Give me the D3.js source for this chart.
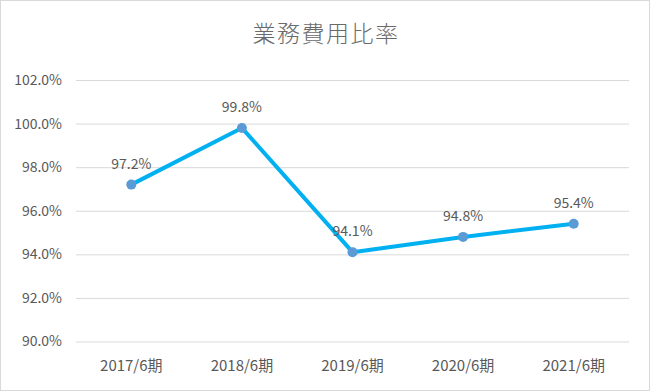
<!DOCTYPE html>
<html><head><meta charset="utf-8">
<script src="https://cdn.jsdelivr.net/npm/d3@7"></script>
<style>html,body{margin:0;padding:0;background:#fff;}svg{display:block;}</style>
</head><body>
<svg id="c" width="650" height="391"></svg>
<script>
const categories = ["2017/6期","2018/6期","2019/6期","2020/6期","2021/6期"];
const values = [97.2, 99.8, 94.1, 94.8, 95.4];
const yTicks = [90, 92, 94, 96, 98, 100, 102];
const title = "業務費用比率";

const svg = d3.select("#c");
const W = 650, H = 391;
const m = {left: 76, right: 21, top: 80, bottom: 50};
const font = "'Noto Sans CJK JP','Noto Sans',sans-serif";

svg.append("rect").attr("x",0.5).attr("y",0.5).attr("width",W-1).attr("height",H-1)
  .attr("fill","#fff").attr("stroke","#d9d9d9");

const x = d3.scaleBand().domain(categories).range([m.left, W - m.right]);
const y = d3.scaleLinear().domain([90, 102]).range([341.5, 80]);

svg.append("text").attr("x", W/2 + 1).attr("y", 42).attr("text-anchor","middle")
  .attr("font-family", font).attr("font-size", 23).attr("font-weight",300)
  .attr("letter-spacing", 1.5)
  .attr("fill","#6a6a6a").text(title);

const ya = svg.append("g").attr("transform",`translate(${m.left},0)`)
  .call(d3.axisLeft(y).tickValues(yTicks).tickSize(-(W - m.right - m.left)).tickFormat(d => d.toFixed(1) + "%"));
ya.select(".domain").remove();
ya.selectAll(".tick line").attr("stroke","#d9d9d9").attr("stroke-width",1);
ya.selectAll(".tick text").attr("x",-14).attr("fill","#595959").attr("font-size",14).attr("font-family",font);

const xa = svg.append("g").attr("transform",`translate(0,${y(90)})`)
  .call(d3.axisBottom(x).tickSize(0));
xa.select(".domain").remove();
xa.selectAll(".tick text").attr("y", 0).attr("dy", 29).attr("fill","#595959").attr("font-size",15).attr("font-family",font);

const pts = categories.map((c,i)=>({c, v: values[i]}));
const line = d3.line().x(d => x(d.c) + x.bandwidth()/2).y(d => y(d.v));
svg.append("path").datum(pts).attr("d", line).attr("fill","none")
  .attr("stroke","#00b0f0").attr("stroke-width",4).attr("stroke-linejoin","round");

svg.selectAll("circle.pt").data(pts).join("circle").attr("class","pt")
  .attr("cx", d => x(d.c) + x.bandwidth()/2).attr("cy", d => y(d.v)).attr("r",5)
  .attr("fill","#5b9bd5");

svg.selectAll("text.lbl").data(pts).join("text").attr("class","lbl")
  .attr("x", d => x(d.c) + x.bandwidth()/2).attr("y", d => y(d.v) - 16)
  .attr("text-anchor","middle").attr("font-family",font).attr("font-size",14)
  .attr("fill","#595959").text(d => d.v.toFixed(1) + "%");
</script>
</body></html>
